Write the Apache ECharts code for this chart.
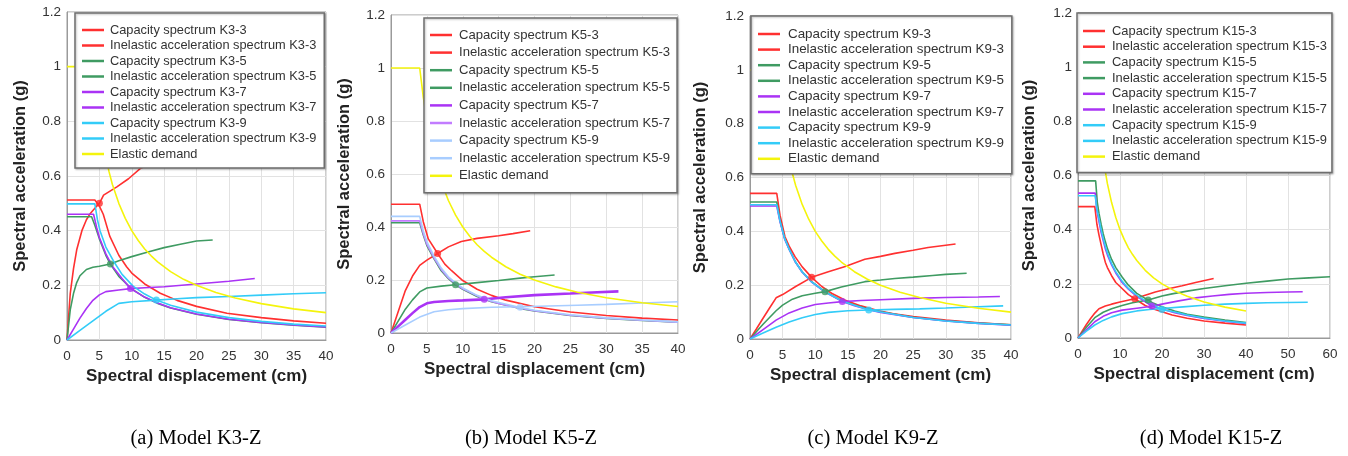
<!DOCTYPE html>
<html>
<head>
<meta charset="utf-8">
<script src="https://cdn.jsdelivr.net/npm/echarts@6/dist/echarts.min.js"></script>
<style>
  html, body { margin: 0; padding: 0; background: #fff; }
  #chart { width: 1348px; height: 456px; }
</style>
</head>
<body>
<div id="chart"></div>
<script>
// elastic demand, same for all four models  [Sd (cm), Sa (g)]
var elasticDemand = [[0,1],[4,1],[4.5,0.89],[5,0.8],[5.5,0.73],[6,0.67],[6.5,0.615],[7,0.57],[8,0.5],[9,0.445],[10,0.4],[11,0.364],[12,0.333],[13,0.308],[14,0.286],[16,0.25],[18,0.222],[20,0.2],[23,0.174],[26,0.154],[30,0.133],[35,0.114],[40,0.1]];

// (a) K3-Z
var capK3_3 = [[0,0],[0.5,0.17],[1,0.26],[1.5,0.33],[2.3,0.40],[3,0.44],[3.6,0.463],[4.6,0.49],[5,0.5],[5.65,0.53],[7.7,0.56],[9.5,0.59],[11.3,0.627],[14,0.655]];
var ineK3_3 = [[0,0.512],[4.3,0.512],[5,0.49],[5.6,0.46],[6.6,0.38],[8,0.31],[9.2,0.268],[10,0.245],[12,0.205],[14.4,0.171],[17,0.145],[20,0.123],[24.7,0.098],[30,0.082],[35,0.07],[40,0.061]];
var capK3_5 = [[0,0],[0.5,0.11],[1,0.17],[1.5,0.21],[2,0.235],[3,0.258],[4,0.266],[5,0.27],[6.7,0.278],[8,0.29],[10,0.305],[12.5,0.322],[15,0.338],[17.5,0.35],[20,0.362],[22.5,0.366]];
var ineK3_5 = [[0,0.451],[3.8,0.451],[4.3,0.42],[5,0.37],[6,0.31],[6.7,0.278],[8,0.233],[10,0.187],[12,0.156],[14,0.134],[16,0.117],[20,0.094],[25,0.075],[30,0.063],[35,0.054],[40,0.047]];
var capK3_7 = [[0,0],[1,0.04],[2,0.08],[3,0.115],[4,0.145],[5,0.165],[6,0.177],[8,0.183],[9.8,0.188],[12,0.191],[15,0.195],[20,0.205],[25,0.215],[29,0.225]];
var ineK3_7 = [[0,0.46],[4.1,0.46],[4.6,0.41],[5,0.375],[6,0.315],[7,0.27],[8.5,0.225],[9.8,0.188],[12,0.157],[14,0.135],[16,0.118],[20,0.095],[25,0.076],[30,0.064],[35,0.055],[40,0.048]];
var capK3_9 = [[0,0],[2,0.035],[4,0.07],[6,0.105],[8,0.134],[10,0.14],[13.8,0.146],[17,0.151],[20,0.155],[25,0.159],[30,0.164],[35,0.169],[40,0.173]];
var ineK3_9 = [[0,0.498],[4.3,0.498],[4.7,0.44],[5.1,0.4],[6,0.34],[7.15,0.29],[8.5,0.24],[10.2,0.197],[12,0.168],[13.8,0.146],[16,0.127],[20,0.102],[25,0.082],[30,0.068],[35,0.058],[40,0.051]];
var ppK3 = [[5,0.5],[6.7,0.278],[9.8,0.188],[13.8,0.146]];

// (b) K5-Z
var capK5_3 = [[0,0],[1,0.08],[2,0.16],[3,0.215],[4,0.255],[5,0.275],[6.5,0.30],[8,0.325],[9.8,0.345],[12,0.357],[15,0.367],[17,0.375],[19.4,0.386]];
var ineK5_3 = [[0,0.486],[4,0.486],[4.5,0.42],[5.2,0.355],[6.5,0.30],[7.5,0.26],[8.45,0.235],[10,0.198],[12,0.165],[14,0.142],[16,0.124],[20,0.099],[25,0.079],[30,0.066],[35,0.056],[40,0.049]];
var capK5_5 = [[0,0],[1,0.045],[2,0.09],[3,0.125],[4,0.155],[5,0.17],[7,0.177],[9,0.182],[12,0.19],[15,0.198],[18,0.207],[20,0.212],[22.8,0.219]];
var ineK5_5 = [[0,0.416],[4,0.416],[4.5,0.37],[5,0.33],[6,0.28],[7,0.235],[8,0.205],[9,0.182],[10,0.165],[12,0.138],[14,0.118],[17.7,0.094],[20,0.083],[25,0.066],[30,0.055],[35,0.047],[40,0.041]];
var capK5_7 = [[0,0],[1,0.025],[2,0.05],[3,0.075],[4,0.098],[5,0.112],[6,0.117],[8,0.121],[10,0.123],[13,0.127],[16,0.135],[20,0.143],[25,0.149],[28,0.153],[31.7,0.157]];
var ineK5_7 = [[0,0.423],[4,0.423],[4.5,0.375],[5,0.335],[6,0.283],[7,0.24],[8,0.208],[9,0.185],[10,0.167],[13,0.127],[15,0.111],[17.7,0.095],[20,0.084],[25,0.067],[30,0.056],[35,0.048],[40,0.041]];
var capK5_9 = [[0,0],[2,0.03],[4,0.06],[6,0.08],[8,0.088],[10,0.092],[14,0.097],[18,0.099],[22,0.102],[26,0.105],[30,0.108],[35,0.113],[40,0.118]];
var ineK5_9 = [[0,0.44],[4,0.44],[4.5,0.385],[5,0.345],[6,0.29],[7,0.245],[8,0.212],[9,0.189],[10,0.17],[12,0.142],[14,0.122],[18,0.096],[20,0.086],[25,0.069],[30,0.057],[35,0.049],[40,0.042]];
var ppK5 = [[6.5,0.30],[9,0.182],[13,0.127],[18,0.097]];

// (c) K9-Z
var capK9_3 = [[0,0],[1,0.038],[2,0.077],[3,0.115],[4,0.153],[5,0.165],[7,0.195],[9.45,0.229],[12,0.25],[14.6,0.269],[17.6,0.296],[20,0.307],[22.2,0.318],[25,0.33],[27.3,0.34],[31.5,0.353]];
var ineK9_3 = [[0,0.541],[4.1,0.541],[4.6,0.46],[5.36,0.38],[6,0.345],[6.9,0.306],[8,0.268],[9.45,0.229],[11,0.195],[12.5,0.17],[14.6,0.144],[17,0.123],[19.7,0.105],[22,0.094],[25,0.083],[30,0.07],[35,0.06],[40,0.053]];
var capK9_5 = [[0,0],[1,0.028],[2,0.055],[3,0.08],[4,0.105],[5,0.126],[6.5,0.148],[8,0.161],[10,0.17],[11.5,0.176],[14,0.193],[17.6,0.213],[20,0.219],[22.2,0.225],[25,0.23],[28,0.236],[30,0.24],[33.2,0.244]];
var ineK9_5 = [[0,0.509],[4.1,0.509],[4.6,0.44],[5.3,0.375],[6,0.335],[7,0.285],[8,0.25],[9.5,0.212],[11.5,0.176],[13,0.156],[14.15,0.142],[16,0.126],[18.2,0.111],[20,0.101],[25,0.081],[30,0.068],[35,0.059],[40,0.053]];
var capK9_7 = [[0,0],[2,0.035],[4,0.07],[6,0.097],[8,0.115],[10,0.128],[12,0.134],[14.15,0.139],[17,0.143],[20,0.146],[25,0.151],[30,0.154],[35,0.156],[38.3,0.158]];
var ineK9_7 = [[0,0.494],[4.1,0.494],[4.6,0.435],[5.3,0.372],[6,0.333],[7,0.284],[8,0.248],[9.5,0.21],[11.5,0.174],[14.15,0.139],[16,0.124],[18.2,0.109],[20,0.099],[25,0.08],[30,0.067],[35,0.058],[40,0.051]];
var capK9_9 = [[0,0],[2,0.022],[4,0.044],[6,0.063],[8,0.079],[10,0.091],[12,0.099],[15,0.105],[18.2,0.108],[22,0.11],[26,0.112],[30,0.115],[34,0.119],[38.8,0.123]];
var ineK9_9 = [[0,0.499],[4.1,0.499],[4.6,0.438],[5.3,0.374],[6,0.334],[7,0.285],[8,0.249],[9.5,0.211],[11.5,0.175],[14.15,0.14],[16,0.125],[18.2,0.108],[20,0.1],[25,0.08],[30,0.067],[35,0.058],[40,0.052]];
var ppK9 = [[9.45,0.229],[11.5,0.176],[14.15,0.139],[18.2,0.108]];

// (d) K15-Z
var capK15_3 = [[0,0],[1,0.025],[2,0.05],[3,0.072],[4,0.092],[5,0.108],[6.5,0.118],[8,0.125],[10,0.133],[13.5,0.145],[16,0.158],[18.4,0.17],[21,0.18],[24.8,0.193],[28,0.205],[32.3,0.22]];
var ineK15_3 = [[0,0.485],[4,0.485],[4.5,0.42],[5,0.38],[5.5,0.345],[6,0.31],[6.5,0.28],[7,0.26],[8,0.23],[9,0.205],[10,0.19],[12,0.16],[13.5,0.145],[16,0.12],[18,0.107],[20,0.097],[22.4,0.085],[26,0.073],[30,0.063],[35,0.055],[40,0.048]];
var capK15_5 = [[0,0],[2,0.04],[4,0.075],[6,0.095],[8,0.108],[10.5,0.12],[13,0.13],[16.7,0.14],[20,0.155],[22.4,0.163],[26,0.173],[30,0.183],[35,0.193],[40,0.202],[45,0.21],[50,0.218],[55,0.222],[60,0.226]];
var ineK15_5 = [[0,0.58],[4.2,0.58],[4.6,0.5],[5,0.46],[5.5,0.42],[6,0.385],[6.5,0.356],[7,0.33],[8,0.29],[9,0.26],[10.5,0.225],[12,0.195],[14,0.165],[16.7,0.14],[18,0.128],[20,0.115],[23,0.1],[26,0.088],[30,0.077],[35,0.066],[40,0.057]];
var capK15_7 = [[0,0],[2,0.03],[4,0.06],[6,0.08],[8,0.093],[10.5,0.103],[14,0.11],[17.6,0.117],[20,0.125],[24,0.137],[28,0.148],[32,0.155],[36,0.161],[40,0.165],[45,0.168],[50,0.17],[53.5,0.171]];
var ineK15_7 = [[0,0.535],[4.1,0.535],[4.5,0.47],[5,0.43],[5.5,0.39],[6,0.36],[6.5,0.33],[7,0.307],[8,0.27],[9,0.24],[10.5,0.205],[12,0.18],[14,0.154],[17.6,0.118],[20,0.107],[23,0.093],[26,0.083],[30,0.072],[35,0.062],[40,0.054]];
var capK15_9 = [[0,0],[2,0.025],[4,0.048],[6,0.065],[8,0.078],[10.5,0.09],[14,0.1],[17,0.105],[20,0.109],[25,0.115],[30,0.121],[35,0.125],[40,0.128],[45,0.13],[50,0.131],[54.7,0.132]];
var ineK15_9 = [[0,0.525],[4.1,0.525],[4.5,0.475],[5,0.44],[5.5,0.4],[6,0.367],[6.5,0.34],[7,0.315],[8,0.275],[9,0.245],[10.5,0.21],[12,0.183],[14,0.157],[16,0.138],[20,0.105],[23,0.096],[26,0.085],[30,0.074],[35,0.063],[40,0.055]];
var ppK15 = [[13.5,0.145],[16.7,0.14],[17.6,0.118],[20,0.105]];

var xTicks = [0, 5, 10, 15, 20, 25, 30, 35, 40];   // (a)-(c), step 5
var xTicksD = [0, 10, 20, 30, 40, 50, 60];         // (d), step 10
var yTicks = [0, 0.2, 0.4, 0.6, 0.8, 1, 1.2];

var RED = '#ff3030', GREEN = '#3f9b62', PURPLE = '#aa33f5', CYAN = '#33ccf8', YELLOW = '#f4f40c';
var LPURPLE = '#c27cff', LBLUE = '#a8cdff';

var panels = [
  { k: 'K3', caption: '(a) Model K3-Z', capX: 196,
    grid: { left: 67, top: 12, width: 259, height: 328 }, ticks: xTicks, nameGapY: 38,
    legend: { left: 75, top: 13, padding: [10, 8, 7, 7], itemGap: 1.5, fontSize: 12.8, textGap: 6 },
    curves: [capK3_3, ineK3_3, capK3_5, ineK3_5, capK3_7, ineK3_7, capK3_9, ineK3_9],
    colors: [RED, RED, GREEN, GREEN, PURPLE, PURPLE, CYAN, CYAN], pp: ppK3 },
  { k: 'K5', caption: '(b) Model K5-Z', capX: 531,
    grid: { left: 391, top: 15, width: 287, height: 318 }, ticks: xTicks, nameGapY: 38,
    legend: { left: 424, top: 18, padding: [10, 7, 10, 6], itemGap: 3.6, fontSize: 13.1, textGap: 7 },
    curves: [capK5_3, ineK5_3, capK5_5, ineK5_5, capK5_7, ineK5_7, capK5_9, ineK5_9],
    colors: [RED, RED, GREEN, GREEN, PURPLE, LPURPLE, LBLUE, LBLUE], pp: ppK5 },
  { k: 'K9', caption: '(c) Model K9-Z', capX: 873,
    grid: { left: 750, top: 16, width: 261, height: 323 }, ticks: xTicks, nameGapY: 41,
    legend: { left: 751, top: 16, padding: [11, 8, 8, 7], itemGap: 1.6, fontSize: 13.4, textGap: 8 },
    curves: [capK9_3, ineK9_3, capK9_5, ineK9_5, capK9_7, ineK9_7, capK9_9, ineK9_9],
    colors: [RED, RED, GREEN, GREEN, PURPLE, PURPLE, CYAN, CYAN], pp: ppK9 },
  { k: 'K15', caption: '(d) Model K15-Z', capX: 1211,
    grid: { left: 1078, top: 13, width: 252, height: 325 }, ticks: xTicksD, nameGapY: 40,
    legend: { left: 1077, top: 13, padding: [11, 5, 9, 6], itemGap: 1.7, fontSize: 12.9, textGap: 7 },
    curves: [capK15_3, ineK15_3, capK15_5, ineK15_5, capK15_7, ineK15_7, capK15_9, ineK15_9],
    colors: [RED, RED, GREEN, GREEN, PURPLE, PURPLE, CYAN, CYAN], pp: ppK15 }
];

var suffix = ['3', '3', '5', '5', '7', '7', '9', '9'];
var FONT = '"Liberation Sans", Arial, sans-serif';

var grids = [], xAxes = [], yAxes = [], legends = [], series = [], titles = [];

panels.forEach(function (p, i) {
  grids.push({ left: p.grid.left, top: p.grid.top, width: p.grid.width, height: p.grid.height,
    show: true, borderColor: '#9a9a9a', borderWidth: 1, backgroundColor: '#fff' });
  var ticks = p.ticks;
  xAxes.push({ type: 'value', gridIndex: i, min: ticks[0], max: ticks[ticks.length - 1],
    interval: ticks[1] - ticks[0],
    name: 'Spectral displacement (cm)', nameLocation: 'middle', nameGap: 27,
    nameTextStyle: { fontFamily: FONT, fontWeight: 'bold', fontSize: 17, color: '#222' },
    axisLine: { show: true, lineStyle: { color: '#9a9a9a' } }, axisTick: { show: false },
    axisLabel: { fontFamily: FONT, fontSize: 13.5, color: '#333', margin: 9 },
    splitLine: { show: true, lineStyle: { color: '#e2e2e2' } } });
  yAxes.push({ type: 'value', gridIndex: i, min: yTicks[0], max: yTicks[yTicks.length - 1],
    interval: yTicks[1] - yTicks[0],
    name: 'Spectral acceleration (g)', nameLocation: 'middle', nameGap: p.nameGapY,
    nameTextStyle: { fontFamily: FONT, fontWeight: 'bold', fontSize: 16.5, color: '#222' },
    axisLine: { show: true, lineStyle: { color: '#9a9a9a' } }, axisTick: { show: false },
    axisLabel: { fontFamily: FONT, fontSize: 13.5, color: '#333', margin: 6 },
    splitLine: { show: true, lineStyle: { color: '#e2e2e2' } } });

  var names = [];
  p.curves.forEach(function (data, j) {
    var name = (j % 2 === 0 ? 'Capacity spectrum ' : 'Inelastic acceleration spectrum ') + p.k + '-' + suffix[j];
    names.push(name);
    var w = (p.k === 'K5' && j === 4) ? 2.6 : 1.6;
    series.push({ type: 'line', name: name, xAxisIndex: i, yAxisIndex: i, data: data,
      symbol: 'none', z: 2,
      lineStyle: { color: p.colors[j], width: w }, itemStyle: { color: p.colors[j] } });
  });
  names.push('Elastic demand');
  series.push({ type: 'line', name: 'Elastic demand', xAxisIndex: i, yAxisIndex: i, data: elasticDemand,
    symbol: 'none', z: 2,
    lineStyle: { color: YELLOW, width: 1.6 }, itemStyle: { color: YELLOW } });

  // performance points
  p.pp.forEach(function (pt, j) {
    series.push({ type: 'scatter', name: 'pp' + p.k + j, xAxisIndex: i, yAxisIndex: i, data: [pt],
      symbolSize: 7, z: 3, itemStyle: { color: p.colors[j * 2] } });
  });

  legends.push({ data: names, orient: 'vertical', left: p.legend.left, top: p.legend.top,
    padding: p.legend.padding, itemGap: p.legend.itemGap, itemWidth: 22, itemHeight: 2.5,
    icon: 'rect',
    backgroundColor: '#fff', borderColor: '#6e6e6e', borderWidth: 1.5,
    shadowColor: 'rgba(0,0,0,0.25)', shadowBlur: 2, shadowOffsetX: 1, shadowOffsetY: 1,
    selectedMode: false, z: 10,
    textStyle: { fontFamily: FONT, fontSize: p.legend.fontSize, lineHeight: 14, color: '#333',
      padding: [0, 0, 0, p.legend.textGap - 5] } });

  titles.push({ text: p.caption, left: p.capX, top: 428, textAlign: 'center', padding: 0,
    textStyle: { fontFamily: '"Liberation Serif", "Times New Roman", serif', fontWeight: 'normal', fontSize: 20.5, color: '#000' } });
});

var chart = echarts.init(document.getElementById('chart'), null, { renderer: 'canvas' });
chart.setOption({
  animation: false,
  backgroundColor: '#fff',
  title: titles,
  grid: grids,
  xAxis: xAxes,
  yAxis: yAxes,
  legend: legends,
  series: series
});
</script>
</body>
</html>
